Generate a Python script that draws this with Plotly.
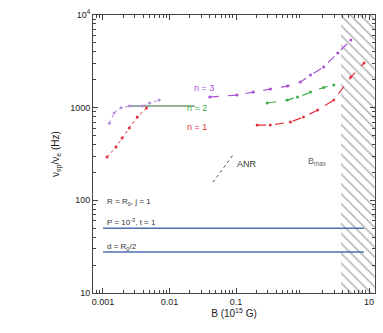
import plotly.graph_objects as go

# ---- data ----
n3_low_x = [0.00125, 0.00147, 0.00187, 0.0025, 0.0039, 0.005, 0.007]
n3_low_y = [680, 875, 1000, 1040, 1040, 1120, 1210]
n3_x = [0.0404, 0.1035, 0.181, 0.327, 0.593, 0.933, 1.32, 2.08, 3.39, 5.34]
n3_y = [1300, 1368, 1473, 1588, 1710, 1889, 2248, 2742, 3882, 5360]

flat_x = [0.0025, 0.024]
flat_y = [1040, 1040]

n2_x = [0.295, 0.593, 0.84, 1.32, 2.08, 2.95]
n2_y = [1122, 1208, 1300, 1473, 1650, 1754]

n1_low_x = [0.00115, 0.00157, 0.00194, 0.00248, 0.00328, 0.0045]
n1_low_y = [293, 376, 470, 603, 792, 990]
n1_x = [0.208, 0.327, 0.658, 1.035, 1.69, 2.95, 5.34, 8.4]
n1_y = [649, 649, 700, 794, 942, 1208, 2138, 3029]

anr_x = [0.045, 0.09]
anr_y = [157, 308]

hline_x = [0.001, 8.4]
hline1_y = [50, 50]
hline2_y = [27.7, 27.7]

hatch_x = [3.8, 12.2, 12.2, 3.8, 3.8]
hatch_y = [10, 10, 10000, 10000, 10]

xtick_vals = [0.001, 0.01, 0.1, 10]
xtick_text = ["0.001", "0.01", "0.1", "10"]
ytick_vals = [10, 100, 1000, 10000]
ytick_text = ["10", "100", "1000", "10<sup>4</sup>"]

PURPLE = "#a64fd6"
GREEN = "#3fae49"
RED = "#e2313f"
BLUE = "#4f6fae"

# minor tick positions (2..9 within each decade)
x_minor = [m * 10.0 ** e for e in range(-4, 2) for m in range(2, 10)]
y_minor = [m * 10.0 ** e for e in range(1, 4) for m in range(2, 10)]

fig = go.Figure()

fig.add_trace(go.Scatter(x=hatch_x, y=hatch_y, mode="none", fill="toself",
                         fillcolor="white",
                         fillpattern=dict(shape="\\", fgcolor="#555555", bgcolor="white",
                                          size=7, solidity=0.2),
                         hoverinfo="skip"))

fig.add_trace(go.Scatter(x=hline_x, y=hline1_y, mode="lines", line=dict(color=BLUE, width=1.5)))
fig.add_trace(go.Scatter(x=hline_x, y=hline2_y, mode="lines", line=dict(color=BLUE, width=1.5)))

fig.add_trace(go.Scatter(x=flat_x, y=flat_y, mode="lines", line=dict(color="#6f9a70", width=1.5)))

fig.add_trace(go.Scatter(x=n3_low_x, y=n3_low_y, mode="lines+markers",
                         line=dict(color="#b08be0", width=1, dash="dot"),
                         marker=dict(size=3, color="#b08be0")))
fig.add_trace(go.Scatter(x=n3_x, y=n3_y, mode="lines+markers",
                         line=dict(color=PURPLE, width=1.2, dash="dash"),
                         marker=dict(size=3, color=PURPLE)))
fig.add_trace(go.Scatter(x=n2_x, y=n2_y, mode="lines+markers",
                         line=dict(color=GREEN, width=1.2, dash="dash"),
                         marker=dict(size=3, color=GREEN)))
fig.add_trace(go.Scatter(x=n1_low_x, y=n1_low_y, mode="lines+markers",
                         line=dict(color=RED, width=1, dash="dot"),
                         marker=dict(size=3, color=RED)))
fig.add_trace(go.Scatter(x=n1_x, y=n1_y, mode="lines+markers",
                         line=dict(color=RED, width=1.2, dash="dash"),
                         marker=dict(size=3, color=RED)))
fig.add_trace(go.Scatter(x=anr_x, y=anr_y, mode="lines",
                         line=dict(color="#555555", width=1, dash="dot")))

font = dict(family="Liberation Sans, Arial, sans-serif", size=9, color="#222222")
anns = [
    dict(x=-1.48, y=3.21, text="n = 3", font=dict(size=9, color=PURPLE)),
    dict(x=-1.58, y=3.0, text="n = 2", font=dict(size=9, color=GREEN)),
    dict(x=-1.58, y=2.79, text="n = 1", font=dict(size=9, color=RED)),
    dict(x=-0.84, y=2.39, text="ANR", font=dict(size=9, color="#333333")),
    dict(x=0.22, y=2.42, text="B<sub>max</sub>", font=dict(size=9, color="#666666")),
    dict(x=-2.97, y=1.98, text="R = R<sub>0</sub>, j = 1", font=dict(size=8, color="#333333"), xanchor="left"),
    dict(x=-2.97, y=1.77, text="P = 10<sup>-3</sup>, t = 1", font=dict(size=8, color="#333333"), xanchor="left"),
    dict(x=-2.97, y=1.50, text="d = R<sub>0</sub>/2", font=dict(size=8, color="#333333"), xanchor="left"),
]
for a in anns:
    a.setdefault("xanchor", "center")
    a.update(xref="x", yref="y", showarrow=False, yanchor="middle")

axis_common = dict(type="log", tickmode="array", ticks="inside", ticklen=5,
                   tickcolor="#444444", mirror="ticks", showline=True,
                   linecolor="#444444", linewidth=1, showgrid=False, zeroline=False)

fig.update_layout(
    width=383, height=333,
    margin=dict(l=93, r=8, t=15, b=40),
    paper_bgcolor="white", plot_bgcolor="white",
    showlegend=False,
    font=font,
    annotations=anns,
    xaxis=dict(range=[-3.15, 1.09], tickvals=xtick_vals, ticktext=xtick_text,
               minor=dict(tickmode="array", tickvals=x_minor, ticks="inside",
                          ticklen=3, tickcolor="#444444", showgrid=False),
               title=dict(text="B (10<sup>15</sup> G)", font=dict(size=10), standoff=4),
               **axis_common),
    yaxis=dict(range=[1, 4], tickvals=ytick_vals, ticktext=ytick_text,
               minor=dict(tickmode="array", tickvals=y_minor, ticks="inside",
                          ticklen=3, tickcolor="#444444", showgrid=False),
               title=dict(text="ν<sub>sp</sub>/ν<sub>e</sub> (Hz)", font=dict(size=10), standoff=8),
               **axis_common),
)

fig.write_html("out.html",
               config={"displayModeBar": False},
               post_script="document.body.style.margin='0';"
                           "document.documentElement.style.overflow='hidden';"
                           "document.body.style.overflow='hidden';")
